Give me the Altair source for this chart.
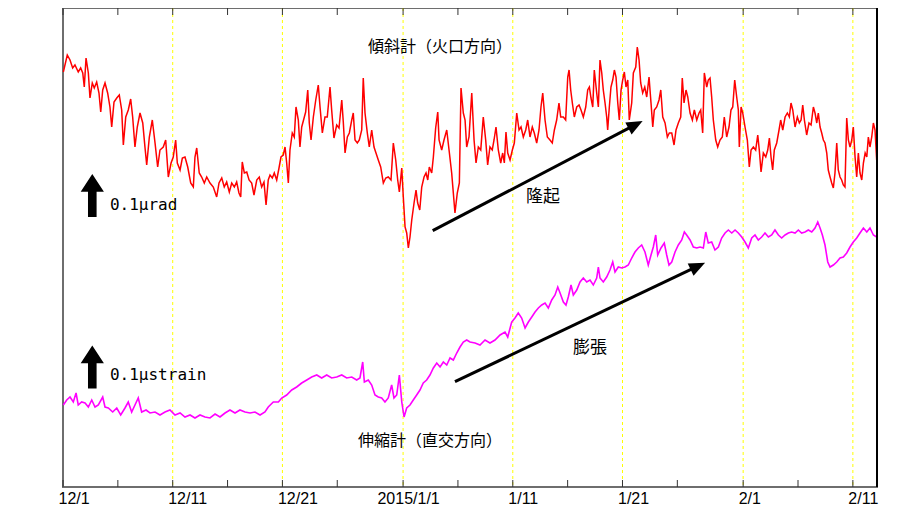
import altair as alt
import pandas as pd

# ---- data (days since 2014-12-01, relative level) ----
red_day = [0.03,0.39,0.64,0.88,1.09,1.39,1.61,1.80,1.94,2.10,2.31,2.46,2.67,2.85,3.07,3.28,3.44,3.62,3.83,4.07,
 4.28,4.44,4.65,4.90,5.13,5.35,5.50,5.72,5.95,6.17,6.35,6.56,6.77,7.02,7.27,7.47,7.63,7.87,8.14,8.39,
 8.63,8.84,9.14,9.36,9.60,9.85,10.05,10.27,10.42,10.67,10.88,11.12,11.37,11.64,11.88,12.03,12.19,12.42,12.64,12.88,
 13.10,13.40,13.70,14.01,14.22,14.47,14.70,14.92,15.16,15.38,15.62,15.83,16.04,16.20,16.34,16.53,16.75,16.96,17.20,17.41,
 17.66,17.89,18.11,18.32,18.51,18.71,18.87,19.08,19.26,19.48,19.69,19.87,20.08,20.24,20.39,20.54,20.69,20.90,21.08,21.24,
 21.45,21.60,21.76,22.00,22.12,22.31,22.45,22.61,22.82,23.04,23.27,23.43,23.64,23.88,24.09,24.34,24.49,24.70,24.95,25.16,
 25.41,25.55,25.71,25.92,26.10,26.32,26.46,26.62,26.83,27.01,27.23,27.37,27.53,27.74,27.92,28.14,28.35,28.53,28.74,28.96,
 29.20,29.42,29.65,29.90,30.11,30.33,30.51,30.66,30.88,31.02,31.18,31.33,31.48,31.63,31.79,32.00,32.18,32.33,32.52,32.70,
 32.91,33.09,33.25,33.39,33.61,33.76,33.97,34.16,34.28,34.52,34.73,34.98,35.19,35.43,35.58,35.73,35.94,36.13,36.28,36.49,
 36.65,36.80,37.01,37.26,37.47,37.65,37.86,38.08,38.31,38.53,38.71,38.92,39.13,39.29,39.47,39.68,39.90,40.08,40.23,40.38,
 40.54,40.75,40.96,41.14,41.36,41.57,41.75,41.96,42.18,42.36,42.57,42.78,42.96,43.18,43.39,43.57,43.73,43.94,44.15,44.39,
 44.60,44.79,45.00,45.21,45.37,45.61,45.82,46.01,46.13,46.28,46.43,46.61,46.83,47.04,47.22,47.43,47.65,47.83,47.98,48.13,
 48.29,48.43,48.65,48.80,48.95,49.11,49.25,49.41,49.56,49.65,49.80,49.95,50.11,50.26,50.41,50.57,50.71,50.87,51.02,51.17,
 51.32,51.48,51.62,51.84,51.99,52.21,52.35,52.51,52.66,52.84,53.03,53.21,53.42,53.60,53.76,53.90,54.12,54.33,54.49,54.67,
 54.88,55.09,55.27,55.49,55.70,55.88,56.09,56.31,56.45,56.61,56.79,56.95,57.16,57.37,57.55,57.77,57.98,58.13,58.31,58.46,
 58.68,58.82,58.98,59.13,59.28,59.50,59.68,59.89,60.10,60.28,60.50,60.71,60.89,61.05,61.23,61.41,61.56,61.65,61.81,61.96,
 62.17,62.38,62.56,62.72,62.93,63.14,63.33,63.47,63.63,63.84,64.06,64.24,64.39,64.54,64.69,64.84,65.06,65.27,65.42,65.61,
 65.82,66.03,66.21,66.36,66.52,66.73,66.94,67.12,67.28,67.43,67.58,67.79,68.00,68.19,68.40,68.55,68.71,68.85,69.01,69.16,
 69.31,69.46,69.62,69.76,69.92,70.07,70.22,70.37,70.53,70.67,70.83,70.98,71.13,71.28,71.44,71.59,71.74,71.90,72.04,72.20,
 72.35,72.50,72.65,72.81,72.96,73.12,73.27,73.41,73.56,73.72,73.87,74.02,74.17]
red_val = [413,430,425,417,420,413,417,412,398,427,412,387,402,397,403,392,373,395,402,392,
 378,358,383,387,390,375,340,368,375,386,368,338,358,372,362,338,320,348,365,342,
 318,335,338,345,308,322,328,345,322,315,327,328,318,302,298,328,337,312,308,302,
 308,302,298,288,302,307,298,303,293,302,298,303,292,288,323,312,313,305,302,290,
 305,308,298,303,280,305,310,307,312,305,317,328,330,338,322,302,335,352,348,378,
 365,338,358,368,373,395,362,345,368,385,400,378,352,368,368,398,375,347,360,357,
 385,363,332,348,352,365,372,345,342,345,355,407,372,352,338,355,338,332,325,318,
 302,307,308,305,342,325,305,293,317,288,258,252,237,248,265,282,295,282,275,298,
 308,312,305,318,312,328,357,373,345,335,345,355,335,312,292,272,292,302,397,372,
 365,338,348,392,345,322,338,335,368,345,320,338,335,345,358,335,322,332,322,353,
 332,325,335,342,372,355,358,348,355,365,348,358,352,342,355,378,392,365,348,345,
 342,355,365,382,368,368,365,408,415,395,382,368,378,380,375,368,378,395,398,387,
 378,415,392,378,425,412,395,382,368,355,378,398,405,415,408,382,365,395,405,413,
 398,405,365,382,412,418,438,425,402,392,398,388,408,382,358,375,378,385,395,368,
 362,348,352,352,340,355,362,368,407,382,395,388,372,365,375,365,372,375,352,412,
 398,405,407,388,365,345,338,345,348,368,348,358,375,378,405,388,375,338,378,372,
 358,345,318,335,338,335,350,335,313,332,328,335,347,328,315,335,342,355,365,355,
 368,372,368,382,375,358,368,362,365,380,365,350,362,360,378,372,362,372,358,352,
 345,342,332,315,308,302,297,312,342,315,308,305,300,298,367,345,338,345,358,328,
 308,332,312,305,322,332,328,348,338,348,362,355,325]

mag_day = [0.03,0.34,0.64,0.94,1.19,1.39,1.70,2.01,2.31,2.62,2.92,3.22,3.62,3.83,4.13,4.53,4.90,5.26,5.65,5.95,
 6.26,6.56,6.86,7.17,7.57,7.93,8.39,8.84,9.30,9.75,10.21,10.67,11.12,11.58,12.03,12.49,12.94,13.40,13.86,14.31,
 14.77,15.22,15.68,16.13,16.59,17.05,17.50,17.96,18.41,18.71,19.17,19.63,19.94,20.39,20.85,21.30,21.76,22.22,22.67,23.13,
 23.58,24.04,24.49,24.95,25.41,25.86,26.32,26.77,27.07,27.32,27.47,27.83,28.14,28.44,28.74,29.05,29.35,29.65,29.96,30.17,
 30.42,30.66,30.88,31.09,31.33,31.63,31.93,32.24,32.54,32.84,33.15,33.45,33.76,34.07,34.37,34.67,34.98,35.28,35.58,35.89,
 36.19,36.49,36.80,37.10,37.56,38.01,38.47,38.92,39.38,39.84,40.29,40.54,40.90,41.20,41.50,41.81,42.12,42.42,42.73,43.03,
 43.33,43.64,43.94,44.24,44.55,44.85,45.10,45.31,45.61,45.85,46.06,46.31,46.52,46.83,47.13,47.43,47.74,48.04,48.34,48.65,
 48.80,48.95,49.25,49.56,49.86,50.11,50.32,50.62,50.93,51.23,51.53,51.84,52.14,52.44,52.75,53.05,53.35,53.60,53.81,54.03,
 54.21,54.51,54.81,55.03,55.24,55.49,55.79,56.09,56.40,56.64,56.85,57.16,57.46,57.77,58.07,58.37,58.59,58.82,59.13,59.43,
 59.74,60.04,60.35,60.65,60.96,61.26,61.56,61.87,62.17,62.47,62.78,63.08,63.38,63.69,63.99,64.30,64.60,64.90,65.21,65.51,
 65.82,66.12,66.42,66.73,67.03,67.33,67.64,67.94,68.25,68.55,68.80,69.01,69.22,69.46,69.71,69.92,70.22,70.53,70.83,71.13,
 71.44,71.74,72.04,72.35,72.65,72.96,73.27,73.56,73.87,74.17]
mag_val = [80,85,88,83,92,80,83,82,78,85,78,80,88,78,77,73,77,70,77,83,
 73,80,87,73,75,72,73,70,73,75,70,72,68,70,67,70,68,67,71,68,
 72,75,72,75,73,72,73,70,73,78,83,83,87,90,95,98,102,105,108,110,
 107,110,107,108,110,107,108,105,107,123,103,105,100,90,88,87,83,87,100,87,
 90,110,83,68,77,80,85,90,95,102,105,110,117,122,118,123,120,127,125,132,
 138,143,145,143,142,140,145,142,145,150,153,148,163,167,172,167,157,163,168,173,
 177,180,182,177,185,190,198,192,183,180,188,200,190,195,203,207,203,205,200,207,
 218,207,203,208,215,223,213,218,217,218,220,227,233,237,240,233,220,230,238,250,
 230,237,242,230,220,223,233,240,245,253,250,245,238,237,238,237,253,242,243,235,
 238,247,252,255,252,255,252,248,243,237,247,250,245,248,252,248,250,255,250,247,
 250,252,253,252,255,252,253,255,253,257,263,257,250,240,223,218,220,223,227,228,
 232,238,243,247,252,257,253,257,250,248]

major_days = [0, 10, 20, 31, 41, 51, 62, 72]
major_labels = ["12/1", "12/11", "12/21", "2015/1/1", "1/11", "1/21", "2/1", "2/11"]
minor_days = [5, 15, 25, 36, 46, 56, 67]

x_max = 74.2
y_min, y_max = -2, 477

# annotations
titles = pd.DataFrame({"day": [34.37, 33.46], "val": [438, 44],
                       "txt": ["傾斜計（火口方向）", "伸縮計（直交方向）"]})
words = pd.DataFrame({"day": [43.76, 48.04], "val": [288, 137], "txt": ["隆起", "膨張"]})
scale_txt = pd.DataFrame({"day": [4.28, 4.28], "val": [280, 110], "txt": ["0.1μrad", "0.1μstrain"]})
up_arrows = pd.DataFrame({"day": [2.67, 2.67], "val": [289.5, 118]})
diag = pd.DataFrame({"day": [33.70, 35.73], "val": [254.3, 103.3],
                     "day2": [52.19, 57.87], "val2": [360.3, 218.9], "ang": [332.4, 334.5]})

# ---- build ----
xs = alt.Scale(domain=[0, x_max], nice=False, zero=False)
ys = alt.Scale(domain=[y_min, y_max], nice=False, zero=False)

label_expr = " : ".join(f"datum.value == {d} ? '{l}'" for d, l in zip(major_days, major_labels)) + " : ''"
x_axis = alt.Axis(values=major_days, labelExpr=label_expr, ticks=False, grid=False, domain=False,
                  title=None, labelFont="Liberation Sans", labelFontSize=16, labelColor="#000",
                  labelPadding=3, labelAlign={"expr": "datum.value == 31 ? 'center' : 'left'"},
                  labelOffset={"expr": "datum.value == 31 ? 5 : -5"}, labelFlush=False, labelOverlap=False)

X = alt.X("day:Q", scale=xs, axis=x_axis)
Y = alt.Y("val:Q", scale=ys, axis=None)

grid_df = pd.DataFrame({"day": major_days[1:]})
grid = alt.Chart(grid_df).mark_rule(color="#ffff00", strokeDash=[3, 3], strokeWidth=1).encode(x=X)

tick_days = major_days + minor_days
ticks_df = pd.DataFrame({
    "day": tick_days * 2,
    "val": [y_min] * len(tick_days) + [y_max] * len(tick_days),
    "val2": [y_min + 7] * len(tick_days) + [y_max - 7] * len(tick_days),
})
ticks = alt.Chart(ticks_df).mark_rule(color="#333", strokeWidth=1).encode(x=X, y=Y, y2="val2:Q")

red = alt.Chart(pd.DataFrame({"day": red_day, "val": red_val})).mark_line(
    color="#ff0000", strokeWidth=1.5, interpolate="linear").encode(x=X, y=Y, order="day:Q")
mag = alt.Chart(pd.DataFrame({"day": mag_day, "val": mag_val})).mark_line(
    color="#ff00ff", strokeWidth=1.6, interpolate="linear").encode(x=X, y=Y, order="day:Q")

diag_lines = alt.Chart(diag).mark_rule(color="#000", strokeWidth=3).encode(x=X, y=Y, x2="day2:Q", y2="val2:Q")
diag_heads = alt.Chart(diag).mark_point(
    shape="M1,0 L-1,-0.85 L-1,0.85 Z", size=256, filled=True, color="#000", opacity=1, strokeWidth=0
).encode(x=alt.X("day2:Q", scale=xs, axis=x_axis), y=alt.Y("val2:Q", scale=ys, axis=None),
         angle=alt.Angle("ang:Q", scale=None))

up = alt.Chart(up_arrows).mark_point(
    shape="M0,-1 L0.54,-0.18 L0.2,-0.18 L0.2,1 L-0.2,1 L-0.2,-0.18 L-0.54,-0.18 Z",
    size=1849, filled=True, color="#000", opacity=1, strokeWidth=0).encode(x=X, y=Y)

t_titles = alt.Chart(titles).mark_text(font="Noto Sans CJK JP", fontSize=16, color="#000").encode(
    x=X, y=Y, text="txt:N")
t_words = alt.Chart(words).mark_text(font="Noto Sans CJK JP", fontSize=17, color="#000").encode(
    x=X, y=Y, text="txt:N")
t_scale = alt.Chart(scale_txt).mark_text(font="DejaVu Sans Mono", fontSize=16, color="#000",
                                          align="left").encode(x=X, y=Y, text="txt:N")

right_border = alt.Chart(pd.DataFrame({"day": [x_max]})).mark_rule(color="#000", strokeWidth=2).encode(x=X)

chart = alt.layer(grid, red, mag, ticks, diag_lines, diag_heads, up, t_titles, t_words, t_scale,
                  right_border).properties(
    width=814, height=479,
    autosize=alt.AutoSizeParams(type="none"),
    padding={"left": 55, "top": 0, "right": 25, "bottom": 28},
    background="white",
).configure_view(stroke="#6e6e6e", strokeWidth=2)

chart.save("out.html", embed_options={"renderer": "svg", "actions": False})
